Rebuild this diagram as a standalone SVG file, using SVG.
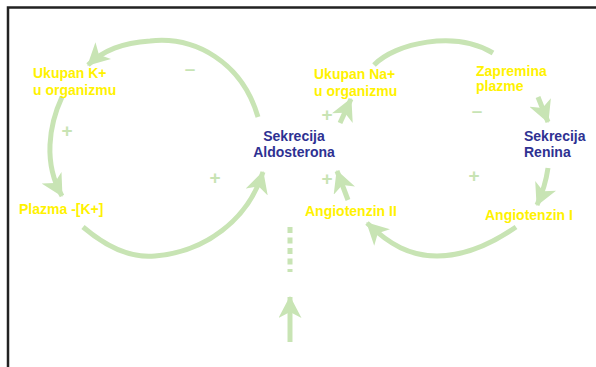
<svg xmlns="http://www.w3.org/2000/svg" width="596" height="367" viewBox="0 0 596 367">
  <style>
    .lbl { font-family: "Liberation Sans", Arial, sans-serif; font-weight: bold; font-size: 14px; }
    .var { fill: #FFF200; }
    .proc { fill: #2E3192; }
    .sign { font-family: "Liberation Sans", Arial, sans-serif; font-weight: bold; font-size: 19px; fill: #C8E4B4; text-anchor: middle; }
    .link { fill: none; stroke: #C8E4B4; stroke-width: 5; }
  </style>
  <defs>
    <marker id="head" markerUnits="userSpaceOnUse" markerWidth="23" markerHeight="23" refX="21" refY="11.5" orient="auto" viewBox="0 0 23 23">
      <path d="M0,0 L22,11.5 L0,23 L6,11.5 Z" fill="#C8E4B4"/>
    </marker>
  </defs>

  <rect x="8" y="7.5" width="600" height="370" fill="#ffffff" stroke="#222222" stroke-width="2.5"/>

  <g id="connectors">
    <path class="link" marker-end="url(#head)" d="M258,117 C242,62 195,36 150,41 C122,43 104,50 88,65"/>
    <path class="link" marker-end="url(#head)" d="M62,97 C49,125 43,163 62,196"/>
    <path class="link" marker-end="url(#head)" d="M83,227 C110,250 135,258 155,256 C205,252 248,220 263,172"/>
    <path class="link" marker-end="url(#head)" d="M340,123 L351,99"/>
    <path class="link" d="M374,65 C395,43 455,30 493,53"/>
    <path class="link" marker-end="url(#head)" d="M538,97 L548,122"/>
    <path class="link" marker-end="url(#head)" d="M548,168 C546,182 542,194 537,205"/>
    <path class="link" marker-end="url(#head)" d="M516,227 C490,245 465,256 437,256 C410,256 390,245 367,223"/>
    <path class="link" marker-end="url(#head)" d="M348,200 L337,171"/>
    <path class="link" stroke-width="6" stroke-dasharray="6 4.5" d="M290,227 L290,272"/>
    <path class="link" marker-end="url(#head)" d="M290,342 L290,297"/>
  </g>

  <g id="signs">
    <text class="sign" x="190" y="75">–</text>
    <text class="sign" x="67" y="137">+</text>
    <text class="sign" x="215" y="184">+</text>
    <text class="sign" x="327" y="121">+</text>
    <text class="sign" x="327" y="185">+</text>
    <text class="sign" x="477" y="117">–</text>
    <text class="sign" x="474" y="182">+</text>
  </g>

  <g id="ukupan-k">
    <text class="lbl var" x="33" y="78">Ukupan K+</text>
    <text class="lbl var" x="33" y="95">u organizmu</text>
  </g>
  <g id="plazma-k">
    <text class="lbl var" x="19" y="214">Plazma -[K+]</text>
  </g>
  <g id="sekrecija-aldosterona">
    <text class="lbl proc" x="294" y="141" text-anchor="middle">Sekrecija</text>
    <text class="lbl proc" x="294" y="157" text-anchor="middle">Aldosterona</text>
  </g>
  <g id="ukupan-na">
    <text class="lbl var" x="314" y="79">Ukupan Na+</text>
    <text class="lbl var" x="314" y="96">u organizmu</text>
  </g>
  <g id="zapremina-plazme">
    <text class="lbl var" x="476" y="76">Zapremina</text>
    <text class="lbl var" x="476" y="91">plazme</text>
  </g>
  <g id="sekrecija-renina">
    <text class="lbl proc" x="524" y="141">Sekrecija</text>
    <text class="lbl proc" x="524" y="157">Renina</text>
  </g>
  <g id="angiotenzin-1">
    <text class="lbl var" x="485" y="220">Angiotenzin I</text>
  </g>
  <g id="angiotenzin-2">
    <text class="lbl var" x="305" y="216">Angiotenzin II</text>
  </g>
</svg>
